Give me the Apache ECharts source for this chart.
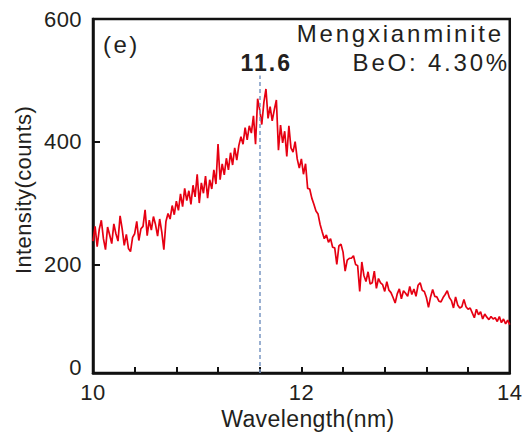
<!DOCTYPE html>
<html>
<head>
<meta charset="utf-8">
<script src="https://cdn.jsdelivr.net/npm/echarts@6/dist/echarts.min.js"></script>
<style>
  html, body { margin: 0; padding: 0; background: #fff; }
  #chart { width: 525px; height: 436px; }
  #chart text { letter-spacing: 0.4px; }
</style>
</head>
<body>
<div id="chart"></div>
<script>
// Spectrum sampling: wavelength grid (nm)
const wlStart = 10;
const wlStep = 0.02;

// Measured intensity (counts), one value per grid step from 10.00 to 14.00 nm
const intensity = [
  238, 262, 229, 257, 272, 242, 224, 261, 248, 234,
  266, 250, 238, 279, 258, 231, 249, 226, 221, 244,
  250, 270, 239, 258, 262, 289, 247, 272, 256, 278,
  265, 246, 274, 253, 224, 270, 283, 274, 296, 281,
  303, 288, 315, 294, 324, 304, 320, 298, 329, 310,
  347, 300, 333, 316, 344, 308, 338, 323, 354, 331,
  396, 338, 364, 346, 373, 354, 382, 362, 390, 370,
  394, 408, 396, 423, 403, 426, 414, 442, 396, 470,
  452, 428, 464, 486, 438, 457, 434, 452, 468, 386,
  427, 398, 417, 376, 426, 390, 383, 400, 372, 357,
  372, 347, 364, 324, 323, 308, 298, 287, 282, 265,
  253, 242, 248, 236, 242, 228, 227, 200, 230, 233,
  220, 189, 207, 210, 210, 214, 200, 198, 156, 204,
  182, 172, 188, 168, 170, 189, 161, 177, 170, 167,
  156, 172, 158, 154, 146, 137, 152, 160, 144, 157,
  153, 148, 164, 151, 160, 148, 166, 170, 158, 156,
  146, 130, 147, 159, 148, 147, 140, 139, 146, 151,
  157, 146, 141, 129, 147, 134, 129, 131, 143, 131,
  127, 129, 121, 113, 127, 118, 123, 111, 119, 114,
  110, 115, 111, 113, 107, 115, 105, 111, 103, 109,
  102
];

// Axis ranges and ticks
const xRange = [10, 14];
const xTickStep = 0.4;
const xLabelValues = [10, 12, 14];
const yFloor = 23;            // bottom edge of the intensity axis
const yTop = 600;
const yTickValues = [200, 400];
const yLabelValues = [yFloor, 200, 400, 600];
const yLabelTexts = ['0', '200', '400', '600'];

// Peak marker
const peakWavelength = 11.6;
const peakLineTop = 508;

// Annotation texts
const panelTag = '(e)';
const sampleName = 'Mengxianminite';
const sampleBeO = 'BeO: 4.30%';

const seriesData = intensity.map((v, i) => [+(wlStart + i * wlStep).toFixed(2), v]);

const FONT = '"Liberation Sans", Arial, sans-serif';
const INK = '#231f20';

const chart = echarts.init(document.getElementById('chart'), null, { renderer: 'svg' });

chart.setOption({
  animation: false,
  backgroundColor: '#fff',
  grid: {
    left: 93, right: 13, top: 19, bottom: 63,
    show: true, borderColor: '#111', borderWidth: 2.5,
    backgroundColor: 'transparent'
  },
  xAxis: {
    type: 'value',
    min: xRange[0], max: xRange[1], interval: xTickStep,
    name: 'Wavelength(nm)',
    nameLocation: 'middle',
    nameGap: 33,
    nameTextStyle: { fontFamily: FONT, fontSize: 23, color: INK, padding: [0, 0, 0, 13] },
    axisLine: { lineStyle: { color: '#111', width: 2.5 } },
    axisTick: { inside: true, length: 6, lineStyle: { color: '#111', width: 2 } },
    axisLabel: {
      customValues: xLabelValues,
      formatter: v => String(Math.round(v)),
      fontFamily: FONT, fontSize: 22, color: INK, margin: 8
    },
    splitLine: { show: false }
  },
  yAxis: {
    type: 'value',
    min: yFloor, max: yTop,
    name: 'Intensity(counts)',
    nameLocation: 'middle',
    nameGap: 59,
    nameTextStyle: { fontFamily: FONT, fontSize: 22, color: INK, padding: [0, 0, 0, 12] },
    axisLine: { lineStyle: { color: '#111', width: 2.5 } },
    axisTick: { inside: true, length: 7, customValues: yTickValues, lineStyle: { color: '#111', width: 2 } },
    axisLabel: {
      customValues: yLabelValues,
      formatter: v => v === yFloor ? '{base|0}' : yLabelTexts[yLabelValues.indexOf(v)],
      fontFamily: FONT, fontSize: 22, color: INK, margin: 11,
      rich: { base: { fontFamily: FONT, fontSize: 22, color: INK, padding: [0, 0, 12, 0] } }
    },
    splitLine: { show: false }
  },
  series: [{
    type: 'line',
    data: seriesData,
    showSymbol: false,
    symbol: 'none',
    sampling: null,
    lineStyle: { color: '#e60012', width: 1.7 },
    z: 3,
    markLine: {
      silent: true,
      symbol: 'none',
      lineStyle: { color: '#7a97c2', type: [4, 3], width: 1.5 },
      label: {
        show: true,
        position: 'end',
        distance: 1,
        formatter: () => peakWavelength.toFixed(1),
        fontFamily: FONT, fontSize: 23, fontWeight: 'bold', color: INK,
        padding: [0, 0, 0, 13]
      },
      data: [[
        { coord: [peakWavelength, yFloor] },
        { coord: [peakWavelength, peakLineTop] }
      ]]
    }
  }],
  graphic: [
    {
      type: 'text', left: 103, top: 32,
      style: { text: panelTag, font: '24px ' + FONT, fill: INK }
    },
    {
      type: 'text', right: 21, top: 21,
      style: { text: sampleName, font: '24px ' + FONT, fill: INK, textAlign: 'right' }
    },
    {
      type: 'text', right: 15, top: 50,
      style: { text: sampleBeO, font: '24px ' + FONT, fill: INK, textAlign: 'right' }
    }
  ]
});

// Wider tracking for the annotation block
const tracking = { [sampleName]: '2.8px', [sampleBeO]: '2.8px', [panelTag]: '2.5px', '11.6': '2px' };
function applyTracking() {
  document.querySelectorAll('#chart text').forEach(t => {
    const s = tracking[t.textContent];
    if (s) t.style.letterSpacing = s;
  });
}
chart.on('finished', applyTracking);
applyTracking();
</script>
</body>
</html>
